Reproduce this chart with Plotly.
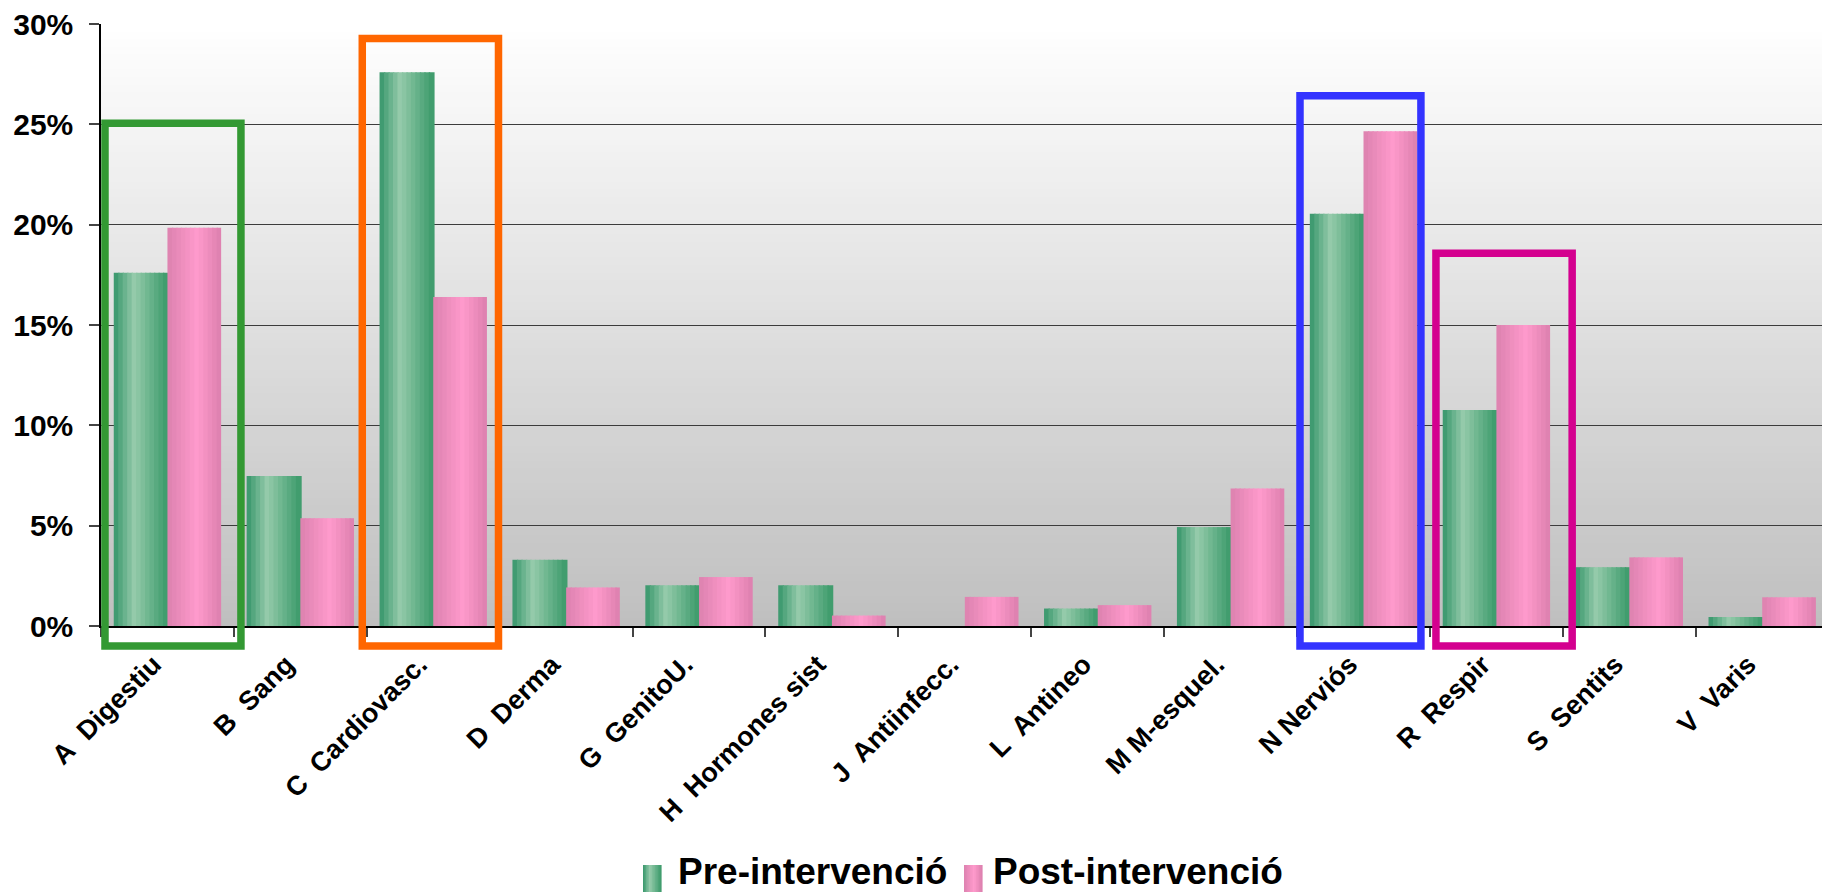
import plotly.graph_objects as go

# ---------------- data ----------------
categories = ["A\u00a0 Digestiu", "B\u00a0 Sang", "C\u00a0 Cardiovasc.", "D\u00a0 Derma",
              "G\u00a0 GenitoU.", "H\u00a0 Hormones sist", "J\u00a0 Antiinfecc.", "L\u00a0 Antineo",
              "M M-esquel.", "N Nerviós", "R\u00a0 Respir", "S\u00a0 Sentits", "V\u00a0 Varis"]
pre_intervencio = [17.6, 7.47, 27.6, 3.3, 2.03, 2.03, 0.0, 0.87, 4.93, 20.55, 10.76, 2.93, 0.45]
post_intervencio = [19.85, 5.37, 16.4, 1.92, 2.44, 0.52, 1.45, 1.04, 6.85, 24.65, 15.0, 3.42, 1.43]
series_names = ["Pre-intervenció", "Post-intervenció"]
y_ticks = [0, 5, 10, 15, 20, 25, 30]
y_tick_labels = ["0%", "5%", "10%", "15%", "20%", "25%", "30%"]

# highlighted groups: (x from, x to in category units, top in %, colour)
highlights = [(-0.47, 0.553, 25.06, "#339933"),
              (1.466, 2.491, 29.28, "#FF6600"),
              (8.522, 9.432, 26.43, "#3333FF"),
              (9.545, 10.57, 18.57, "#D4008F")]

# ---------------- style ----------------
W, H = 1822, 894
ML, MR, MT, MB = 101, 0, 24, 268
PW, PH = W - ML - MR, H - MT - MB
FONT = "Arial, Liberation Sans, sans-serif"


def hex2rgb(h):
    h = h.lstrip("#")
    return tuple(int(h[i:i + 2], 16) for i in (0, 2, 4))


def mix(c1, c2, t):
    a, b = hex2rgb(c1), hex2rgb(c2)
    return "rgb(%d,%d,%d)" % tuple(round(a[i] + (b[i] - a[i]) * t) for i in range(3))


def ramp(edge_l, light, edge_r, peak, n):
    out = []
    for k in range(n):
        t = (k + 0.5) / n
        if t <= peak:
            out.append(mix(edge_l, light, t / peak))
        else:
            out.append(mix(light, edge_r, (t - peak) / (1 - peak)))
    return out


N = 12
green_cols = ramp("#35956a", "#95cbab", "#3b9a6a", 0.38, N)
pink_cols = ramp("#dc82af", "#ff9acc", "#dc80ae", 0.55, N)

BW = 0.404  # width of one series' bar in category units
sw = BW / N

fig = go.Figure()
for s, (vals, cols, base) in enumerate([(pre_intervencio, green_cols, -BW),
                                        (post_intervencio, pink_cols, 0.0)]):
    for k in range(N):
        last = (s == 1 and k == N - 1)
        fig.add_trace(go.Bar(
            x=categories, y=vals, name=series_names[s],
            offset=base + k * sw, width=sw if last else sw * 1.3,
            marker=dict(color=cols[k], line=dict(width=0)),
            showlegend=False, hoverinfo="x+y"))

# background vertical gradient of the plot area
NB = 80
for i in range(NB):
    fig.add_shape(type="rect", xref="paper", yref="paper",
                  x0=0, x1=1, y0=i / NB, y1=(i + 1) / NB + 0.002,
                  fillcolor=mix("#bfbfbf", "#ffffff", (i + 0.5) / NB),
                  line=dict(width=0), layer="below")

# highlight boxes
for x0, x1, top, col in highlights:
    fig.add_shape(type="rect", xref="x", yref="paper",
                  x0=x0, x1=x1, y0=-1.0 / 30, y1=top / 30,
                  line=dict(color=col, width=7.5), fillcolor="rgba(0,0,0,0)",
                  layer="above")


# custom legend
def px2paper_x(px):
    return (px - ML) / PW


def px2paper_y(py):
    return (H - MB - py) / PH


legend_items = [(643, 661, 677, green_cols), (964, 982, 992, pink_cols)]
for (mx0, mx1, tx, cols), name in zip(legend_items, series_names):
    n = len(cols)
    for k in range(n):
        fig.add_shape(type="rect", xref="paper", yref="paper",
                      x0=px2paper_x(mx0 + (mx1 - mx0) * k / n),
                      x1=px2paper_x(mx0 + (mx1 - mx0) * (k + 1) / n + 0.6),
                      y0=px2paper_y(892), y1=px2paper_y(865),
                      fillcolor=cols[k], line=dict(width=0), layer="above")
    fig.add_annotation(x=px2paper_x(tx), y=px2paper_y(872), xref="paper", yref="paper",
                       text=name, showarrow=False, xanchor="left", yanchor="middle",
                       borderpad=0,
                       font=dict(family=FONT, size=37, color="black", weight="bold"))

fig.update_layout(
    width=W, height=H,
    margin=dict(l=ML, r=MR, t=MT, b=MB, pad=0),
    paper_bgcolor="white", plot_bgcolor="white",
    barmode="overlay",
    showlegend=False,
    font=dict(family=FONT, color="black"),
)
fig.update_xaxes(
    type="category", range=[-0.5, 12.45],
    showline=True, linecolor="black", linewidth=2,
    ticks="outside", tickson="boundaries", ticklen=9, tickcolor="#444", tickwidth=1.5,
    tickangle=-45, tickfont=dict(family=FONT, size=27, color="black", weight="bold"),
    showgrid=False, ticklabelstandoff=10, ticklabelshift=-14,
)
fig.update_yaxes(
    range=[0, 30], tickmode="array", tickvals=y_ticks, ticktext=y_tick_labels,
    showline=True, linecolor="black", linewidth=1.5,
    ticks="outside", ticklen=10, tickcolor="#444", tickwidth=1.5,
    tickfont=dict(family=FONT, size=30, color="black", weight="bold"),
    showgrid=True, gridcolor="#3c3c3c", gridwidth=1, zeroline=False,
    ticklabelstandoff=10,
)

fig.write_html("out.html")
